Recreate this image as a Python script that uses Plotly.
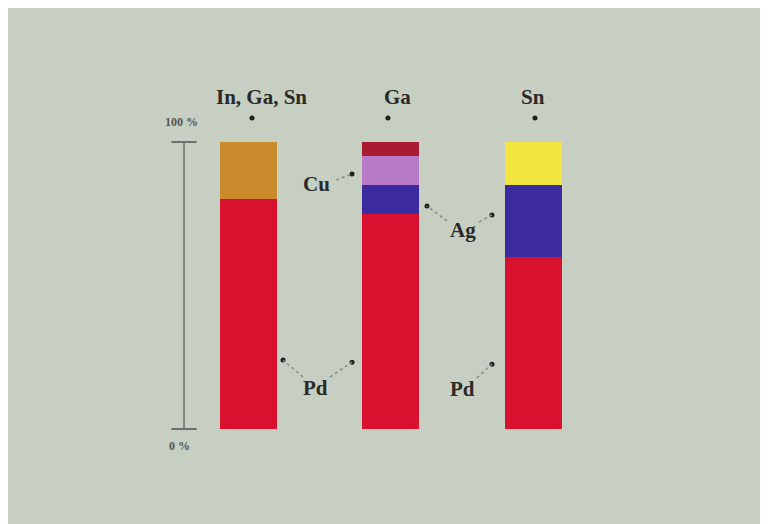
import plotly.graph_objects as go

# ---- data (percent composition) ----
bar_positions = [1, 2, 3]
bar_titles = ["In, Ga, Sn", "Ga", "Sn"]

pd_vals = [80, 75, 60]          # Pd (red), bottom segment
ingasn_vals = [20, None, None]  # In, Ga, Sn (orange)
ag_vals = [None, 10, 25]        # Ag (blue)
cu_vals = [None, 10, None]      # Cu (pink/violet)
ga_vals = [None, 5, None]       # Ga (dark red)
sn_vals = [None, None, 15]      # Sn (yellow)

scale_values = [0, 100]
scale_labels = ["0 %", "100 %"]

# ---- styles ----
C_PD = "#d7112e"
C_INGASN = "#c98b2b"
C_AG = "#3b2b9e"
C_CU = "#b879c6"
C_GA = "#a91b30"
C_SN = "#f2e53e"
BG = "#c6cfc1"
TXT = "#2a2a2a"
FONT = "Liberation Serif"
BAR_W = 0.40

fig = go.Figure()
for name, vals, col in [
    ("Pd", pd_vals, C_PD),
    ("In, Ga, Sn", ingasn_vals, C_INGASN),
    ("Ag", ag_vals, C_AG),
    ("Cu", cu_vals, C_CU),
    ("Ga", ga_vals, C_GA),
    ("Sn", sn_vals, C_SN),
]:
    fig.add_trace(go.Bar(x=bar_positions, y=vals, name=name, width=BAR_W,
                         marker=dict(color=col, line=dict(width=0)),
                         hoverinfo="skip"))

# scale bar 0..100 %
SCALE_X = 0.551
fig.add_trace(go.Scatter(x=[SCALE_X, SCALE_X], y=scale_values, mode="lines+markers",
                         line=dict(color="#6e6e6e", width=1.5),
                         marker=dict(symbol="line-ew", size=18,
                                     line=dict(color="#6e6e6e", width=2)),
                         hoverinfo="skip", showlegend=False))

annotations = []
# column titles and the dots below them
title_offsets = [0.098, 0.046, 0.0]
dot_offsets = [0.028, -0.018, 0.014]
dots_x, dots_y = [], []
for p, t, to, do in zip(bar_positions, bar_titles, title_offsets, dot_offsets):
    annotations.append(dict(x=p + to, y=115.7, text="<b>%s</b>" % t, showarrow=False,
                            font=dict(family=FONT, size=21, color=TXT)))
    dots_x.append(p + do)
    dots_y.append(108.4)

# scale labels
annotations.append(dict(x=0.530, y=107.0, text="<b>%s</b>" % scale_labels[1], showarrow=False,
                        font=dict(family=FONT, size=12, color="#555555")))
annotations.append(dict(x=0.516, y=-5.9, text="<b>%s</b>" % scale_labels[0], showarrow=False,
                        font=dict(family=FONT, size=12, color="#555555")))

# element labels with dotted leaders
labels = [("Cu", 1.484, 85.4), ("Ag", 2.509, 69.3), ("Pd", 1.477, 14.3), ("Pd", 2.502, 13.9)]
for t, x, y in labels:
    annotations.append(dict(x=x, y=y, text="<b>%s</b>" % t, showarrow=False,
                            font=dict(family=FONT, size=21, color=TXT)))

leaders = [
    ((1.618, 86.8), (1.730, 88.85)),
    ((2.396, 72.5), (2.256, 77.7)),
    ((2.621, 72.1), (2.712, 74.6)),
    ((1.386, 18.1), (1.246, 24.0)),
    ((1.575, 18.1), (1.730, 23.3)),
    ((2.607, 17.8), (2.712, 22.6)),
]
shapes = []
for (x0, y0), (x1, y1) in leaders:
    shapes.append(dict(type="line", x0=x0, y0=y0, x1=x1, y1=y1, xref="x", yref="y",
                       line=dict(color="#8a8a8a", width=1.5, dash="dot")))
    dots_x.append(x1)
    dots_y.append(y1)

fig.add_trace(go.Scatter(x=dots_x, y=dots_y, mode="markers",
                         marker=dict(color="#1e1e1e", size=5),
                         hoverinfo="skip", showlegend=False))

fig.update_layout(
    width=760, height=516,
    margin=dict(l=0, r=0, t=0, b=0),
    paper_bgcolor=BG, plot_bgcolor=BG,
    barmode="stack", showlegend=False,
    xaxis=dict(range=[-0.6842, 4.6491], visible=False, fixedrange=True),
    yaxis=dict(range=[-33.10, 146.69], visible=False, fixedrange=True),
    annotations=annotations, shapes=shapes,
)

fig.write_html("out.html")
